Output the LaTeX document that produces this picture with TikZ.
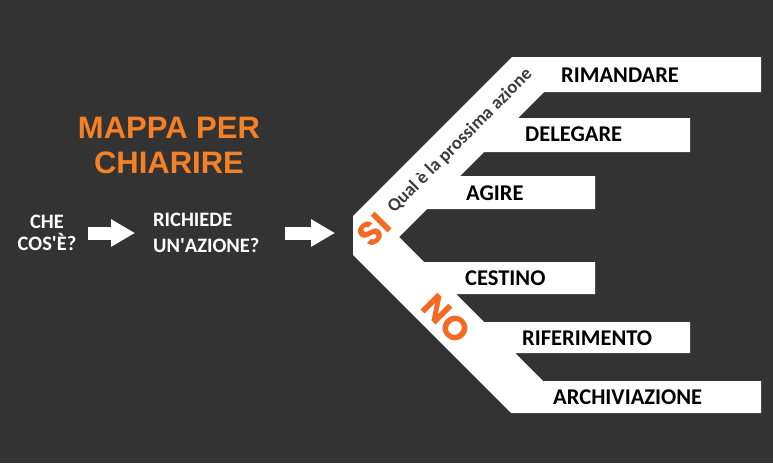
\documentclass[tikz,border=0pt]{standalone}
\usepackage{fontspec}
\setmainfont{Carlito}
\newfontfamily\titlefont{Liberation Sans}
\newfontfamily\signfont{Poppins}
\usetikzlibrary{arrows.meta}
\definecolor{bgdark}{HTML}{333333}
\definecolor{maporange}{HTML}{F58025}
\definecolor{signorange}{HTML}{F26A24}
\definecolor{hintgray}{HTML}{3C3C3C}

\begin{document}
\begin{tikzpicture}[x=1pt, y=-1pt,
    barlabel/.style={anchor=west, inner sep=0pt, text=black, font=\fontsize{22.5}{26}\selectfont\bfseries},
    question/.style={inner sep=0pt, text=white, font=\fontsize{20.5}{22}\selectfont\bfseries},
    answer/.style={inner sep=0pt, text=signorange, font=\signfont\fontsize{34}{34}\selectfont\bfseries},
    blockarrow/.style={draw=white, line width=13pt, -{Triangle[length=24pt, width=26pt]}}
]
    % Background
    \useasboundingbox (0,0) rectangle (773,463);
    \fill[bgdark] (0,0) rectangle (773,463);

    % Title
    \node[align=center, inner sep=0pt, text=maporange, font=\titlefont\fontsize{31}{35}\selectfont\bfseries] (title) at (169,145) {MAPPA PER\\CHIARIRE};

    % Questions
    \node[question, align=center] (che) at (47,233) {CHE\\COS\textquotesingle È?};
    \node[question, align=left, anchor=west, font=\fontsize{20.5}{26}\selectfont\bfseries] (rich) at (153,233) {RICHIEDE\\UN\textquotesingle AZIONE?};
    \coordinate (fork) at (353,233);

    \draw[blockarrow, shorten <=12pt, shorten >=18pt] (che.east) -- (rich.west);
    \draw[blockarrow, shorten <=25pt, shorten >=18pt] (rich.east) -- (fork);

    % Fork with the six bars
    \fill[white] (353,216) -- (512,57) -- (761,57) -- (761,92) -- (544,92) -- (518,118)
        -- (690,118) -- (690,152) -- (484,152) -- (460,176) -- (595,176) -- (595,209)
        -- (427,209) -- (399,237) -- (424,262) -- (595,262) -- (595,294) -- (456,294)
        -- (484,322) -- (690,322) -- (690,353) -- (515,353) -- (543,381) -- (761,381)
        -- (761,413) -- (511,413) -- (353,255) -- cycle;

    \node[answer, rotate=45] (si) at (374,230) {SI};
    \node[answer, rotate=-45] (no) at (446,319) {NO};
    \node[inner sep=0pt, rotate=45, text=hintgray, font=\fontsize{18.5}{22}\selectfont\bfseries] (hint) at (460,141) {Qual è la prossima azione};

    % Actions
    \node[barlabel] (rimandare) at (561,75) {RIMANDARE};
    \node[barlabel] (delegare) at (525,134) {DELEGARE};
    \node[barlabel] (agire) at (466,193) {AGIRE};
    \node[barlabel] (cestino) at (465,278.5) {CESTINO};
    \node[barlabel] (riferimento) at (522,338) {RIFERIMENTO};
    \node[barlabel] (archiviazione) at (553,397) {ARCHIVIAZIONE};
\end{tikzpicture}
\end{document}
